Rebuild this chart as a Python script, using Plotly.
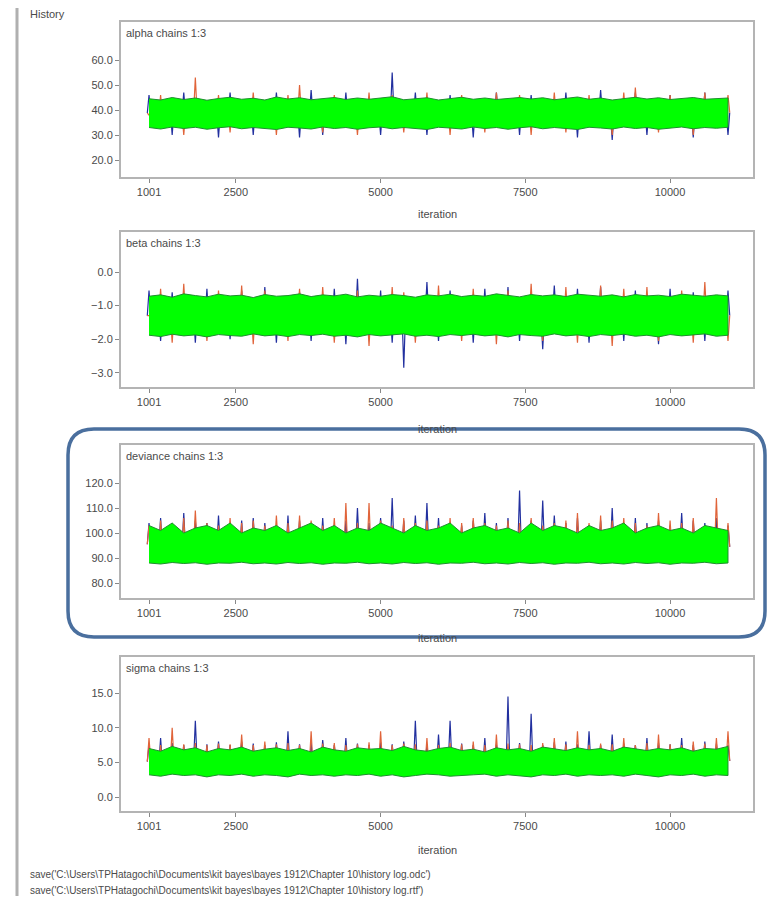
import plotly.graph_objects as go

# ---------------- data ----------------
ITER = list(range(1001, 11002, 200))          # sampled iterations (51)
X_TICKS = [1001, 2500, 5000, 7500, 10000]
X_TICK_TEXT = ["1001", "2500", "5000", "7500", "10000"]

TITLES = ["alpha chains 1:3", "beta chains 1:3", "deviance chains 1:3", "sigma chains 1:3"]

ALPHA_TICKS = [20.0, 30.0, 40.0, 50.0, 60.0]
BETA_TICKS = [-3.0, -2.0, -1.0, 0.0]
DEV_TICKS = [80.0, 90.0, 100.0, 110.0, 120.0]
SIG_TICKS = [0.0, 5.0, 10.0, 15.0]

# chain 3 (green) envelope: upper / lower
ALPHA_HI = [44.5, 44.0, 45.0, 44.2, 44.8, 43.9, 44.6, 45.1, 44.3, 44.7, 44.0, 45.2, 44.4, 44.9, 44.1, 44.6, 45.0,
            44.2, 44.8, 44.3, 44.7, 45.3, 44.1, 44.5, 44.9, 44.0, 44.6, 45.1, 44.3, 44.8, 44.2, 44.7, 45.0, 44.4,
            44.9, 44.1, 44.6, 45.2, 44.3, 44.8, 44.0, 44.5, 45.1, 44.4, 44.9, 44.2, 44.7, 45.0, 44.3, 44.6, 44.8]
ALPHA_LO = [33.0, 32.4, 33.2, 32.6, 33.1, 32.3, 32.9, 33.3, 32.5, 33.0, 32.7, 32.2, 33.1, 32.8, 32.4, 33.2, 32.6,
            33.0, 32.3, 32.9, 33.2, 32.5, 33.0, 32.7, 32.2, 33.1, 32.8, 32.4, 33.2, 32.6, 33.0, 32.3, 32.9, 33.3,
            32.5, 33.0, 32.7, 32.2, 33.1, 32.8, 32.4, 33.2, 32.6, 33.0, 32.3, 32.9, 33.2, 32.5, 33.0, 32.7, 33.1]
ALPHA_C1 = [46, 38, 30, 47, 38, 38, 29, 47, 38, 30, 38, 47, 38, 29, 48, 30, 38, 47, 38, 38, 30, 55, 38, 47, 30, 38,
            46, 38, 29, 38, 47, 38, 30, 46, 38, 38, 47, 29, 38, 48, 28, 38, 47, 30, 38, 46, 38, 29, 47, 38, 30]
ALPHA_C2 = [38, 46, 38, 30, 53, 38, 46, 31, 38, 47, 38, 30, 46, 50, 38, 31, 46, 38, 30, 47, 38, 46, 31, 38, 47, 38,
            30, 46, 38, 31, 47, 38, 46, 30, 38, 47, 31, 38, 46, 38, 30, 47, 49, 38, 31, 46, 38, 30, 47, 38, 46]

BETA_HI = [-0.72, -0.68, -0.75, -0.65, -0.70, -0.74, -0.66, -0.71, -0.69, -0.76, -0.67, -0.72, -0.70, -0.65, -0.73,
           -0.68, -0.71, -0.66, -0.74, -0.69, -0.72, -0.67, -0.70, -0.75, -0.68, -0.71, -0.66, -0.73, -0.69, -0.72,
           -0.65, -0.70, -0.74, -0.67, -0.71, -0.68, -0.73, -0.66, -0.70, -0.72, -0.68, -0.74, -0.67, -0.71, -0.69,
           -0.73, -0.66, -0.70, -0.72, -0.68, -0.71]
BETA_LO = [-1.88, -1.92, -1.85, -1.90, -1.87, -1.93, -1.86, -1.89, -1.91, -1.84, -1.90, -1.87, -1.92, -1.86, -1.89,
           -1.85, -1.91, -1.88, -1.93, -1.86, -1.90, -1.87, -1.84, -1.91, -1.88, -1.92, -1.86, -1.89, -1.85, -1.90,
           -1.87, -1.93, -1.86, -1.89, -1.91, -1.84, -1.90, -1.87, -1.92, -1.86, -1.89, -1.85, -1.91, -1.88, -1.93,
           -1.86, -1.90, -1.87, -1.84, -1.91, -1.88]
BETA_C1 = [-0.55, -2.05, -0.60, -1.3, -2.10, -0.50, -1.3, -2.00, -0.55, -1.3, -0.45, -2.10, -1.3, -0.60, -2.05, -1.3,
           -0.50, -2.15, -0.20, -1.3, -0.55, -2.10, -2.85, -1.3, -0.30, -2.05, -0.55, -1.3, -2.10, -0.50, -1.3, -0.45,
           -2.05, -1.3, -2.30, -0.40, -1.3, -0.50, -2.10, -0.45, -1.3, -2.05, -0.55, -1.3, -2.15, -0.50, -1.3, -0.60,
           -2.05, -1.3, -0.55]
BETA_C2 = [-1.3, -0.50, -2.10, -0.35, -1.3, -2.05, -0.55, -1.3, -0.40, -2.15, -0.55, -1.3, -2.05, -0.50, -1.3, -0.45,
           -2.10, -1.3, -0.55, -2.20, -1.3, -0.45, -0.60, -2.10, -1.3, -0.40, -1.3, -2.05, -0.50, -1.3, -2.15, -0.55,
           -1.3, -0.35, -2.05, -1.3, -0.45, -2.10, -1.3, -0.40, -2.20, -0.50, -1.3, -0.45, -2.05, -1.3, -0.55, -2.10,
           -0.30, -1.3, -2.05]

DEV_HI = [103, 101, 104, 100, 102, 103, 101, 104, 100, 102, 101, 103, 100, 102, 104, 101, 103, 100, 102, 101, 104,
          102, 100, 103, 101, 102, 104, 100, 102, 103, 101, 102, 100, 104, 101, 103, 102, 100, 103, 101, 102, 104,
          100, 102, 103, 101, 102, 100, 103, 102, 101]
DEV_LO = [88.0, 87.6, 88.2, 87.8, 88.1, 87.5, 88.0, 87.9, 88.3, 87.7, 88.0, 87.6, 88.2, 87.8, 88.1, 87.5, 88.0, 87.9,
          88.3, 87.7, 88.0, 87.6, 88.2, 87.8, 88.1, 87.5, 88.0, 87.9, 88.3, 87.7, 88.0, 87.6, 88.2, 87.8, 88.1, 87.5,
          88.0, 87.9, 88.3, 87.7, 88.0, 87.6, 88.2, 87.8, 88.1, 87.5, 88.0, 87.9, 88.3, 87.7, 88.0]
DEV_C1 = [104, 106, 103, 108, 105, 104, 107, 103, 105, 106, 104, 103, 107, 105, 104, 106, 103, 105, 110, 104, 106,
          114, 105, 107, 112, 106, 104, 103, 105, 108, 104, 106, 117, 105, 113, 107, 104, 106, 103, 105, 110, 104,
          106, 104, 105, 103, 108, 105, 104, 106, 103]
DEV_C2 = [103, 105, 104, 106, 109, 104, 103, 106, 104, 105, 103, 107, 104, 107, 105, 103, 106, 112, 104, 112, 105,
          103, 106, 104, 105, 103, 106, 104, 106, 104, 103, 105, 104, 106, 103, 104, 105, 108, 104, 107, 105, 106,
          104, 103, 108, 105, 104, 106, 103, 114, 104]

SIG_HI = [7.0, 6.6, 7.3, 6.8, 7.1, 6.5, 7.0, 6.8, 7.2, 6.6, 6.9, 7.1, 6.7, 7.0, 6.5, 7.2, 6.8, 6.6, 7.1, 6.9, 7.0,
          6.7, 7.3, 6.8, 6.6, 7.0, 7.2, 6.7, 6.9, 6.5, 7.1, 6.8, 7.0, 6.6, 7.2, 6.9, 6.7, 7.1, 6.8, 7.0, 6.6, 7.2,
          6.9, 6.7, 7.0, 6.8, 7.1, 6.6, 7.0, 6.9, 7.3]
SIG_LO = [3.2, 3.0, 3.3, 3.1, 3.2, 2.9, 3.2, 3.1, 3.3, 3.0, 3.2, 3.1, 2.9, 3.3, 3.1, 3.2, 3.0, 3.2, 3.1, 3.3, 3.0,
          3.2, 2.9, 3.1, 3.3, 3.2, 3.0, 3.1, 3.2, 3.3, 3.0, 3.2, 3.1, 2.9, 3.2, 3.1, 3.3, 3.0, 3.2, 3.1, 3.2, 3.0,
          3.3, 3.1, 2.9, 3.2, 3.1, 3.3, 3.0, 3.2, 3.1]
SIG_C1 = [7.5, 8.5, 7.8, 7.5, 11.0, 7.6, 8.0, 7.5, 8.0, 7.7, 7.5, 7.9, 9.5, 7.6, 7.8, 8.2, 7.5, 8.5, 7.7, 7.5, 7.9,
          7.6, 8.0, 11.0, 7.5, 9.0, 11.0, 7.7, 7.5, 8.5, 7.6, 14.5, 7.8, 12.0, 7.5, 7.9, 8.0, 7.6, 9.5, 7.5, 9.0,
          7.7, 7.5, 8.5, 7.8, 7.6, 8.5, 7.5, 8.0, 7.7, 7.5]
SIG_C2 = [8.5, 7.5, 10.0, 7.6, 7.8, 7.5, 7.7, 7.6, 9.0, 7.5, 8.0, 7.6, 7.8, 7.5, 9.5, 7.7, 7.8, 7.5, 7.6, 7.9, 9.5,
          7.5, 7.7, 7.6, 8.5, 7.5, 7.8, 7.6, 8.0, 7.5, 9.0, 7.7, 7.6, 7.5, 7.8, 8.5, 7.6, 9.5, 7.5, 7.7, 7.6, 8.5,
          7.5, 7.8, 9.0, 7.6, 7.5, 8.0, 7.7, 8.5, 9.5]

FOOTER = [r"save('C:\Users\TPHatagochi\Documents\kit bayes\bayes 1912\Chapter 10\history log.odc')",
          r"save('C:\Users\TPHatagochi\Documents\kit bayes\bayes 1912\Chapter 10\history log.rtf')"]

# ---------------- layout helpers ----------------
PAGE_MARGIN = 8                      # default body margin of the html page
W, H = 776 - 2 * PAGE_MARGIN, 904 - 2 * PAGE_MARGIN
def px_x(x): return (x - PAGE_MARGIN) / W          # page pixel -> paper
def px_y(y): return 1 - (y - PAGE_MARGIN) / H

BOX_LEFT, BOX_RIGHT = 121, 753
BOXES = [(22, 177), (232, 387), (445, 598), (657, 811)]     # top, bottom in page pixels
Y_RANGES = [(13.2, 75.2), (-3.42, 1.19), (74.0, 135.2), (-2.02, 20.2)]
X_RANGE = (517, 11433)
ITER_LABEL_GAP = [37, 42, 40, 39]

PANELS = [
    (ALPHA_HI, ALPHA_LO, ALPHA_C1, ALPHA_C2, ALPHA_TICKS),
    (BETA_HI, BETA_LO, BETA_C1, BETA_C2, BETA_TICKS),
    (DEV_HI, DEV_LO, DEV_C1, DEV_C2, DEV_TICKS),
    (SIG_HI, SIG_LO, SIG_C1, SIG_C2, SIG_TICKS),
]

C1_COLOR = "#22309f"
C2_COLOR = "#e0643a"
GREEN = "#00ff00"
TXT = "#4a4a4a"
FONT = "Liberation Sans, Arial, sans-serif"


def spikes(vals, hi, lo):
    xs, ys = [], []
    for t, v, h, l in zip(ITER, vals, hi, lo):
        m = (h + l) / 2
        xs += [t - 30, t, t + 30]
        ys += [m, v, m]
    return xs, ys


fig = go.Figure()
layout = dict(width=W, height=H, margin=dict(l=0, r=0, t=0, b=0), paper_bgcolor="white",
              plot_bgcolor="white", showlegend=False, font=dict(family=FONT, size=11, color=TXT))
annotations = []

for i, ((hi, lo, c1, c2, yt), (top, bot), yr) in enumerate(zip(PANELS, BOXES, Y_RANGES)):
    n = "" if i == 0 else str(i + 1)
    xa, ya = "x" + n, "y" + n
    for vals, col in ((c1, C1_COLOR), (c2, C2_COLOR)):
        xs, ys = spikes(vals, hi, lo)
        fig.add_trace(go.Scatter(x=xs, y=ys, mode="lines", line=dict(color=col, width=1.2),
                                 xaxis=xa, yaxis=ya, hoverinfo="skip"))
    fig.add_trace(go.Scatter(x=ITER + ITER[::-1], y=hi + lo[::-1], mode="lines", fill="toself",
                             fillcolor=GREEN, line=dict(color="#1f8f2f", width=1),
                             xaxis=xa, yaxis=ya, hoverinfo="skip"))
    layout["xaxis" + n] = dict(domain=[px_x(BOX_LEFT), px_x(BOX_RIGHT)], anchor=ya, range=list(X_RANGE),
                               tickvals=X_TICKS, ticktext=X_TICK_TEXT, ticks="outside", ticklen=4,
                               tickcolor="#888", showline=True, mirror=True, linecolor="#b4b4b4", linewidth=2,
                               showgrid=False, zeroline=False, tickfont=dict(size=11, color=TXT))
    layout["yaxis" + n] = dict(domain=[px_y(bot), px_y(top)], anchor=xa, range=list(yr),
                               tickvals=yt, tickformat=".1f", ticks="outside", ticklen=4, tickcolor="#888",
                               showline=True, mirror=True, linecolor="#b4b4b4", linewidth=2,
                               showgrid=False, zeroline=False, tickfont=dict(size=11, color=TXT))
    annotations.append(dict(text=TITLES[i], xref="paper", yref="paper", x=px_x(BOX_LEFT + 3),
                            y=px_y(top + 3), xanchor="left", yanchor="top", showarrow=False,
                            font=dict(size=11, color=TXT)))
    annotations.append(dict(text="iteration", xref="paper", yref="paper", x=px_x((BOX_LEFT + BOX_RIGHT) / 2),
                            y=px_y(bot + ITER_LABEL_GAP[i]), xanchor="center", yanchor="middle",
                            showarrow=False, font=dict(size=11, color=TXT)))

annotations.append(dict(text="History", xref="paper", yref="paper", x=px_x(28), y=px_y(14),
                        xanchor="left", yanchor="middle", showarrow=False, font=dict(size=11, color=TXT)))
for j, line in enumerate(FOOTER):
    annotations.append(dict(text=line, xref="paper", yref="paper", x=px_x(28), y=px_y(874 + 16 * j),
                            xanchor="left", yanchor="middle", showarrow=False, font=dict(size=10, color=TXT)))
layout["annotations"] = annotations

# left window border and highlighted rounded frame
x0, x1, y0, y1 = px_x(68), px_x(765), px_y(637), px_y(429)
rx, ry = 26 / W, 26 / H
path = (f"M {x0+rx},{y1} L {x1-rx},{y1} Q {x1},{y1} {x1},{y1-ry} L {x1},{y0+ry} Q {x1},{y0} {x1-rx},{y0} "
        f"L {x0+rx},{y0} Q {x0},{y0} {x0},{y0+ry} L {x0},{y1-ry} Q {x0},{y1} {x0+rx},{y1} Z")
layout["shapes"] = [
    dict(type="line", xref="paper", yref="paper", x0=px_x(17), x1=px_x(17), y0=-0.02, y1=1.02,
         line=dict(color="#b0b0b0", width=3), layer="above"),
    dict(type="path", xref="paper", yref="paper", path=path, line=dict(color="#4a6f9e", width=3.5),
         layer="above"),
]

fig.update_layout(**layout)
fig.write_html("out.html")
